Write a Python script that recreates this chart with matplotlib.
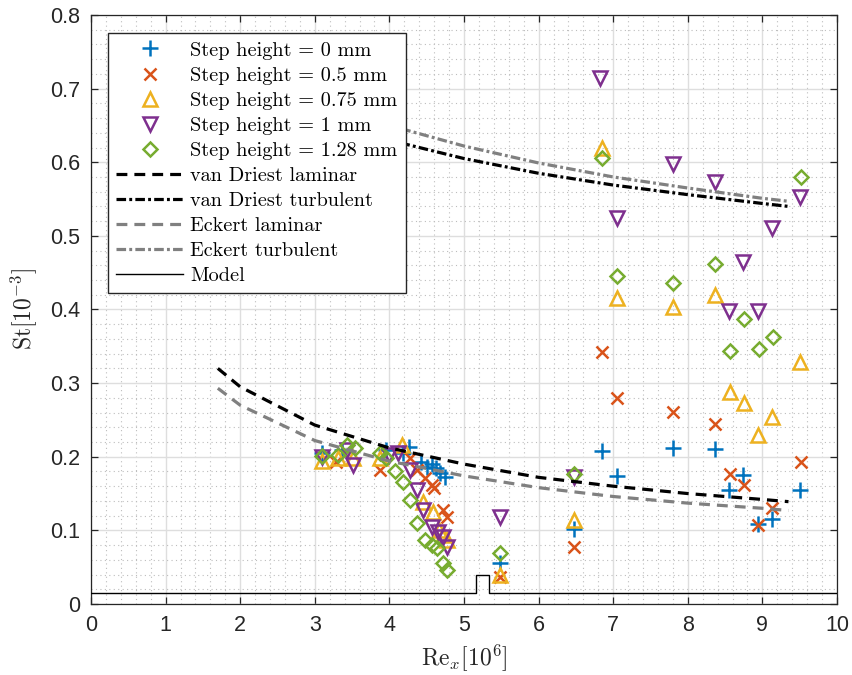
import numpy as np
import matplotlib
matplotlib.use("Agg")
import matplotlib.pyplot as plt
import matplotlib.ticker as mticker

matplotlib.rcParams.update({
    "font.family": "Liberation Sans",
    "mathtext.fontset": "cm",
    "font.size": 15,
})

# ---------------------------------------------------------------------------
# Data
# ---------------------------------------------------------------------------
re_0 = [3.10, 3.36, 3.96, 4.18, 4.26, 4.43, 4.50, 4.57, 4.62, 4.68, 4.74,
        5.48, 6.47, 6.85, 7.05, 7.80, 8.37, 8.55, 8.74, 8.94, 9.13, 9.50]
st_0 = [0.205, 0.209, 0.209, 0.205, 0.213, 0.193, 0.186, 0.190, 0.185, 0.178, 0.173,
        0.056, 0.102, 0.208, 0.174, 0.212, 0.210, 0.155, 0.175, 0.108, 0.115, 0.155]

re_05 = [3.28, 3.87, 4.28, 4.37, 4.48, 4.57, 4.60, 4.72, 4.77,
         5.48, 6.47, 6.85, 7.05, 7.80, 8.37, 8.57, 8.75, 8.94, 9.13, 9.52]
st_05 = [0.193, 0.182, 0.198, 0.182, 0.171, 0.162, 0.158, 0.128, 0.118,
         0.036, 0.077, 0.342, 0.280, 0.261, 0.245, 0.176, 0.161, 0.107, 0.130, 0.193]

re_075 = [3.10, 3.31, 3.51, 3.87, 4.17, 4.45, 4.59, 4.66, 4.72, 4.77,
          5.48, 6.47, 6.85, 7.05, 7.80, 8.37, 8.57, 8.75, 8.94, 9.13, 9.50]
st_075 = [0.194, 0.198, 0.198, 0.198, 0.216, 0.139, 0.125, 0.100, 0.094, 0.087,
          0.040, 0.114, 0.620, 0.416, 0.404, 0.420, 0.288, 0.273, 0.229, 0.254, 0.329]

re_1 = [3.09, 3.43, 3.51, 4.00, 4.12, 4.28, 4.37, 4.45, 4.57, 4.65, 4.72, 4.77,
        5.48, 6.47, 6.83, 7.05, 7.80, 8.37, 8.55, 8.74, 8.94, 9.13, 9.50]
st_1 = [0.200, 0.209, 0.189, 0.202, 0.205, 0.182, 0.155, 0.128, 0.105, 0.098, 0.091, 0.077,
        0.118, 0.172, 0.715, 0.524, 0.597, 0.573, 0.398, 0.465, 0.398, 0.511, 0.553]

re_128 = [3.09, 3.31, 3.43, 3.54, 3.87, 3.96, 4.07, 4.18, 4.28, 4.37, 4.48, 4.57, 4.64,
          4.72, 4.77, 5.48, 6.47, 6.85, 7.05, 7.80, 8.37, 8.57, 8.75, 8.95, 9.14, 9.52]
st_128 = [0.201, 0.202, 0.216, 0.212, 0.205, 0.198, 0.180, 0.166, 0.141, 0.110, 0.087, 0.080,
          0.076, 0.056, 0.046, 0.069, 0.177, 0.606, 0.446, 0.436, 0.462, 0.344, 0.387, 0.346,
          0.363, 0.580]

# correlation curves
re_lam = [1.70, 2.00, 3.00, 4.00, 5.00, 6.00, 7.00, 8.00, 9.00, 9.35]
st_vd_lam = [0.320, 0.295, 0.243, 0.212, 0.190, 0.172, 0.160, 0.150, 0.142, 0.139]
st_ek_lam = [0.293, 0.270, 0.222, 0.194, 0.174, 0.158, 0.146, 0.137, 0.130, 0.127]

re_turb = [3.00, 4.00, 5.00, 6.00, 7.00, 8.00, 9.00, 9.35]
st_vd_turb = [0.679, 0.630, 0.605, 0.585, 0.569, 0.556, 0.544, 0.540]
st_ek_turb = [0.696, 0.650, 0.622, 0.599, 0.580, 0.565, 0.551, 0.547]

# model (step)
re_model = [0.0, 5.16, 5.16, 5.33, 5.33, 10.0]
st_model = [0.015, 0.015, 0.040, 0.040, 0.015, 0.015]

series = [
    (re_0, st_0, "Step height = 0 mm", "+", "#0072BD", 12),
    (re_05, st_05, "Step height = 0.5 mm", "x", "#D95319", 8.5),
    (re_075, st_075, "Step height = 0.75 mm", "^", "#EDB120", 10),
    (re_1, st_1, "Step height = 1 mm", "v", "#7E2F8E", 10),
    (re_128, st_128, "Step height = 1.28 mm", "D", "#77AC30", 7.2),
]

# ---------------------------------------------------------------------------
# Plot
# ---------------------------------------------------------------------------
fig = plt.figure(figsize=(8.53, 6.75), dpi=100)
ax = fig.add_axes([0.1067, 0.1052, 0.8745, 0.8726])

for x, y, lab, mk, col, ms in series:
    ax.plot(x, y, linestyle="none", marker=mk, markersize=ms,
            markerfacecolor="none", markeredgecolor=col,
            markeredgewidth=1.8, label=lab, zorder=3)

lw = 2.3
ax.plot(re_lam, st_vd_lam, color="black", lw=lw, dashes=(3.4, 2.2),
        label="van Driest laminar", zorder=4)
ax.plot(re_turb, st_vd_turb, color="black", lw=lw, dashes=(3.0, 1.0, 0.9, 1.0),
        label="van Driest turbulent", zorder=4)
ax.plot(re_lam, st_ek_lam, color="#808080", lw=lw, dashes=(3.4, 2.2),
        label="Eckert laminar", zorder=4)
ax.plot(re_turb, st_ek_turb, color="#808080", lw=lw, dashes=(3.0, 1.0, 0.9, 1.0),
        label="Eckert turbulent", zorder=4)
ax.plot(re_model, st_model, color="black", lw=1.0, label="Model", zorder=4)

ax.set_xlim(0, 10)
ax.set_ylim(0, 0.8)
ax.xaxis.set_major_locator(mticker.MultipleLocator(1))
ax.yaxis.set_major_locator(mticker.MultipleLocator(0.1))
ax.xaxis.set_minor_locator(mticker.MultipleLocator(0.2))
ax.yaxis.set_minor_locator(mticker.MultipleLocator(0.02))
ax.yaxis.set_major_formatter(mticker.FuncFormatter(lambda v, _: f"{v:g}"))

ax.grid(which="major", color="#DEDEDE", lw=1.0, zorder=0)
ax.grid(which="minor", color="#BDBDBD", lw=0.8, linestyle=(0, (1, 3)), zorder=0)
ax.set_axisbelow(True)

ax.tick_params(which="major", direction="in", length=5, width=0.9,
               top=True, right=True, colors="#262626", labelsize=15.5, pad=8)
ax.tick_params(which="minor", length=0)
for s in ax.spines.values():
    s.set_color("#262626")
    s.set_linewidth(0.9)

ax.set_xlabel(r"$\mathrm{Re}_x[10^6]$", fontsize=17, color="#262626", labelpad=4)
ax.set_ylabel(r"$\mathrm{St}[10^{-3}]$", fontsize=17, color="#262626", labelpad=8)

leg = ax.legend(loc="upper left", bbox_to_anchor=(0.023, 0.969),
                prop={"family": "cmr10", "size": 14.6},
                frameon=True, fancybox=False, framealpha=1, edgecolor="#262626",
                handlelength=3.3, handletextpad=0.35, labelspacing=0.34,
                borderpad=0.4, borderaxespad=0)
leg.get_frame().set_linewidth(1.0)
leg.set_zorder(10)

fig.savefig("out.png", dpi=100)
